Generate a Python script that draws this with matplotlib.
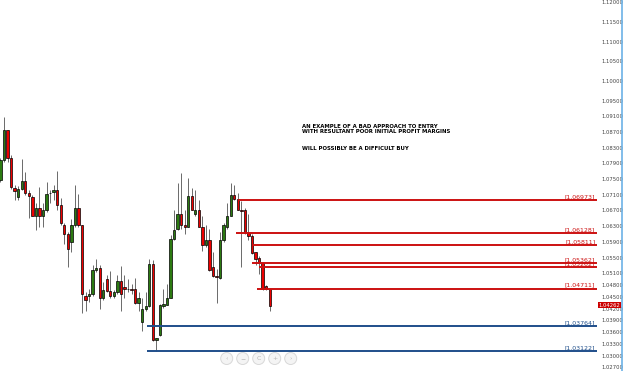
import matplotlib
matplotlib.use("Agg")
import matplotlib.pyplot as plt
import matplotlib.transforms as mtransforms
from matplotlib.patches import Circle
import numpy as np

# daily candles
opens = [1.0748, 1.0798, 1.0874, 1.0803, 1.0727, 1.0705, 1.0725, 1.0745, 1.0715, 1.0705,
         1.0657, 1.0675, 1.0657, 1.0670, 1.0715, 1.0717, 1.0722, 1.0685, 1.0634, 1.0609,
         1.0589, 1.0632, 1.0677, 1.0632, 1.0453, 1.0451, 1.0456, 1.0519, 1.0524, 1.0446,
         1.0496, 1.0466, 1.0453, 1.0461, 1.0491, 1.0476, 1.0471, 1.0471, 1.0471, 1.0433,
         1.0385, 1.0418, 1.0426, 1.0534, 1.0340, 1.0353, 1.0426, 1.0428, 1.0448, 1.0597,
         1.0622, 1.0660, 1.0634, 1.0629, 1.0707, 1.0662, 1.0672, 1.0629, 1.0581, 1.0594,
         1.0526, 1.0504, 1.0499, 1.0594, 1.0627, 1.0657, 1.0710, 1.0700, 1.0670, 1.0672,
         1.0612, 1.0604, 1.0564, 1.0549, 1.0536, 1.0478, 1.0471]
highs = [1.0803, 1.0909, 1.0876, 1.0810, 1.0735, 1.0732, 1.0800, 1.0768, 1.0722, 1.0710,
         1.0690, 1.0730, 1.0690, 1.0743, 1.0722, 1.0735, 1.0770, 1.0702, 1.0639, 1.0614,
         1.0647, 1.0735, 1.0712, 1.0634, 1.0463, 1.0471, 1.0531, 1.0546, 1.0531, 1.0488,
         1.0506, 1.0516, 1.0468, 1.0506, 1.0529, 1.0506, 1.0496, 1.0483, 1.0499, 1.0461,
         1.0448, 1.0463, 1.0546, 1.0544, 1.0345, 1.0431, 1.0471, 1.0483, 1.0607, 1.0672,
         1.0740, 1.0765, 1.0670, 1.0753, 1.0727, 1.0722, 1.0697, 1.0657, 1.0632, 1.0622,
         1.0564, 1.0521, 1.0614, 1.0639, 1.0690, 1.0740, 1.0735, 1.0715, 1.0695, 1.0677,
         1.0660, 1.0609, 1.0564, 1.0554, 1.0539, 1.0481, 1.0471]
lows = [1.0743, 1.0793, 1.0793, 1.0725, 1.0697, 1.0697, 1.0722, 1.0710, 1.0650, 1.0655,
        1.0619, 1.0629, 1.0627, 1.0665, 1.0690, 1.0697, 1.0672, 1.0634, 1.0584, 1.0526,
        1.0564, 1.0629, 1.0629, 1.0408, 1.0413, 1.0438, 1.0453, 1.0514, 1.0418, 1.0443,
        1.0463, 1.0446, 1.0446, 1.0456, 1.0415, 1.0446, 1.0463, 1.0456, 1.0431, 1.0413,
        1.0363, 1.0413, 1.0423, 1.0337, 1.0312, 1.0350, 1.0421, 1.0428, 1.0446, 1.0594,
        1.0619, 1.0622, 1.0609, 1.0627, 1.0670, 1.0657, 1.0627, 1.0566, 1.0576, 1.0516,
        1.0501, 1.0433, 1.0496, 1.0589, 1.0622, 1.0657, 1.0697, 1.0670, 1.0526, 1.0609,
        1.0594, 1.0559, 1.0531, 1.0509, 1.0468, 1.0468, 1.0415]
closes = [1.0798, 1.0874, 1.0803, 1.0730, 1.0720, 1.0725, 1.0745, 1.0715, 1.0707, 1.0657,
          1.0675, 1.0655, 1.0670, 1.0712, 1.0714, 1.0722, 1.0685, 1.0637, 1.0609, 1.0571,
          1.0634, 1.0677, 1.0632, 1.0456, 1.0443, 1.0458, 1.0519, 1.0524, 1.0446, 1.0468,
          1.0466, 1.0453, 1.0461, 1.0491, 1.0456, 1.0471, 1.0470, 1.0468, 1.0433, 1.0448,
          1.0418, 1.0426, 1.0534, 1.0340, 1.0344, 1.0428, 1.0431, 1.0448, 1.0597, 1.0619,
          1.0660, 1.0632, 1.0629, 1.0707, 1.0672, 1.0672, 1.0629, 1.0581, 1.0594, 1.0519,
          1.0504, 1.0501, 1.0594, 1.0632, 1.0657, 1.0710, 1.0700, 1.0670, 1.0669, 1.0612,
          1.0604, 1.0561, 1.0546, 1.0536, 1.0471, 1.0471, 1.04262]

# horizontal levels: value, first candle it is drawn from, kind
level_values = [1.06973, 1.06128, 1.05811, 1.05362, 1.05262, 1.04711, 1.03764, 1.03122]
level_start = [67, 66.5, 71, 71, 73, 72.5, 41.5, 41.5]
level_kind = ["target"] * 6 + ["support"] * 2

ytick_values = [1.120, 1.115, 1.110, 1.105, 1.100, 1.095, 1.091, 1.087, 1.083, 1.079,
                1.075, 1.071, 1.067, 1.063, 1.059, 1.055, 1.051, 1.048, 1.045, 1.042,
                1.039, 1.036, 1.033, 1.030, 1.027]
last_price = 1.04262

note_lines = ["AN EXAMPLE OF A BAD APPROACH TO ENTRY",
              "WITH RESULTANT POOR INITIAL PROFIT MARGINS"]
note_extra = "WILL POSSIBLY BE A DIFFICULT BUY"
nav_symbols = ["\u2039", "\u2212", "C", "+", "\u203a"]

UP = "#2c7a12"
DOWN = "#ee0000"
LEVEL_COL = {"target": "#cc1111", "support": "#1f4e8a"}

W, H = 625, 371
fig = plt.figure(figsize=(W / 100, H / 100), dpi=100)
fig.patch.set_facecolor("white")
ax = fig.add_axes([0, 0, 597 / W, 1])
ax.set_facecolor("white")

o = np.array(opens)
c = np.array(closes)
x = np.arange(len(o))
up = c >= o
cols = np.where(up, UP, DOWN)

ax.vlines(x, lows, highs, color="#6a6a6a", lw=0.7, zorder=2)
body_lo = np.minimum(o, c)
body_h = np.maximum(np.abs(c - o), 0.00003)
ax.bar(x, body_h, bottom=body_lo, width=0.66, color=cols,
       edgecolor="black", linewidth=0.5, zorder=3)

ax.set_xlim(-0.14, 168.4)
ax.set_ylim(1.0261, 1.1206)

xmax = ax.get_xlim()[1]
lab_tr = mtransforms.blended_transform_factory(ax.transAxes, ax.transData)
for v, s, k in zip(level_values, level_start, level_kind):
    col = LEVEL_COL[k]
    ax.hlines(v, s, xmax, color=col, lw=1.4, zorder=4)
    ax.text(0.997, v + 0.00022, f"[{v:.5f}]", transform=lab_tr, ha="right",
            va="bottom", fontsize=4.5, color=col, zorder=5)

# right price scale
ax.yaxis.tick_right()
ax.set_yticks(ytick_values)
ax.set_yticklabels([f"{v:.5f}" for v in ytick_values])
ax.tick_params(axis="y", length=0, pad=3, labelsize=3.8, labelcolor="#444444")
ax.set_xticks([])
for sp in ax.spines.values():
    sp.set_visible(False)

ax.text(1.003, last_price + 0.0002, f"{last_price:.5f}", transform=lab_tr, ha="left",
        va="center", fontsize=3.8, color="white", zorder=6, clip_on=False,
        bbox=dict(boxstyle="square,pad=0.12", fc="#cc0000", ec="none"))

# overlay in pixel units for the notes and chart widgets
ui = fig.add_axes([0, 0, 1, 1], facecolor="none")
ui.set_xlim(0, W)
ui.set_ylim(H, 0)
ui.axis("off")
ui.plot([621.5, 621.5], [0, H], color="#6cb2e6", lw=1.2)

ui.text(302, 124, "\n".join(note_lines), fontsize=3.9, fontweight="bold",
        va="top", ha="left", linespacing=1.05, color="black")
ui.text(302, 145.5, note_extra, fontsize=3.9, fontweight="bold",
        va="top", ha="left", color="black")

for i, sym in enumerate(nav_symbols):
    cx = 226.7 + i * 16
    ui.add_patch(Circle((cx, 358.5), 6, fc="#f4f4f4", ec="#d8d8d8", lw=0.7))
    ui.text(cx, 358.5, sym, fontsize=4.5, color="#b5b5b5", ha="center", va="center")

fig.savefig("out.png", dpi=100)
